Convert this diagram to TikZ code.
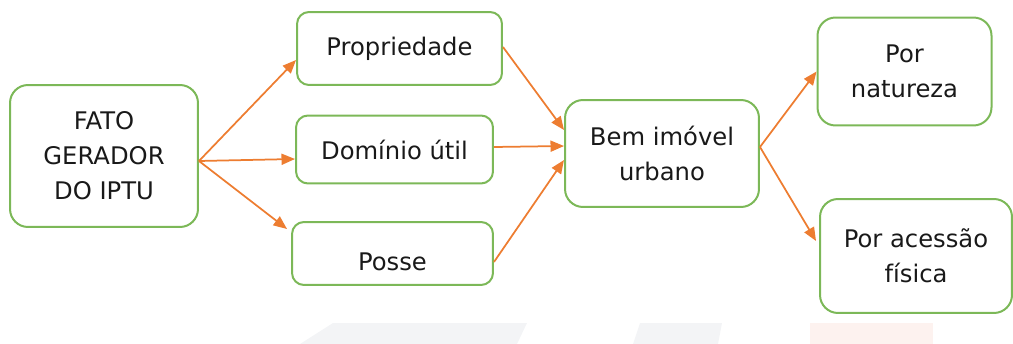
\documentclass[tikz,border=0pt]{standalone}
\usepackage{fontspec}
\setmainfont{DejaVu Sans}
\usetikzlibrary{arrows.meta}
\definecolor{boxgreen}{HTML}{7CB858}
\definecolor{arroworange}{HTML}{ED7D31}
\definecolor{marcacinza}{HTML}{F3F4F6}
\definecolor{marcarosa}{HTML}{FDF2EF}
\tikzset{
  caixa/.style={draw=boxgreen, line width=0.04cm, rounded corners=0.36cm,
    align=center, text=black!90, inner sep=0pt},
  caixapeq/.style={caixa, rounded corners=0.24cm},
  seta/.style={draw=arroworange, line width=0.035cm,
    -{Triangle[length=0.27cm,width=0.22cm]}}
}
\begin{document}
\begin{tikzpicture}[x=0.02cm, y=-0.02cm]
  \fontsize{13.8}{20}\selectfont
  \useasboundingbox (0,0) rectangle (1013,344);

  % marca d'agua ao fundo
  \fill[marcacinza] (333,323) -- (527,323) -- (517,344) -- (300,344) -- cycle;
  \fill[marcacinza] (640,323) -- (722,323) -- (718,344) -- (633,344) -- cycle;
  \fill[marcarosa] (810,323) rectangle (933,344);

  % caixas
  \node[caixa, minimum width=3.76cm, minimum height=2.84cm] (fato) at (104,156)
    {FATO\\GERADOR\\DO IPTU};
  \node[caixapeq, minimum width=4.1cm, minimum height=1.46cm] (prop) at (399.5,48.5)
    {Propriedade};
  \node[caixapeq, minimum width=3.94cm, minimum height=1.36cm] (dom) at (394.5,149.5)
    {Domínio útil};
  \node[caixapeq, minimum width=4.02cm, minimum height=1.26cm,
    label={[yshift=-0.16cm, text=black!90]center:Posse}] (posse) at (392.5,253.5) {};
  \node[caixa, minimum width=3.88cm, minimum height=2.14cm] (bem) at (662,153.5)
    {Bem imóvel\\urbano};
  \node[caixa, minimum width=3.48cm, minimum height=2.16cm] (nat) at (904.5,71.5)
    {Por\\natureza};
  \node[caixa, minimum width=3.84cm, minimum height=2.28cm] (aces) at (916,256)
    {Por acessão\\física};

  % setas
  \coordinate (saida) at ([yshift=-0.1cm]fato.east);
  \draw[seta] (saida) -- ([yshift=-0.23cm]prop.west);
  \draw[seta] (saida) -- ([yshift=-0.19cm]dom.west);
  \draw[seta] (saida) -- ([shift={(-0.08cm,-0.16cm)}]posse.north west);

  \draw[seta] ([yshift=0.03cm]prop.east) -- ([yshift=0.47cm]bem.west);
  \draw[seta] ([yshift=0.05cm]dom.east) -- ([yshift=0.15cm]bem.west);
  \draw[seta] ([yshift=-0.17cm]posse.east) -- ([yshift=-0.13cm]bem.west);

  \coordinate (saidabem) at ([yshift=0.13cm]bem.east);
  \draw[seta] (saidabem) -- (nat.west);
  \draw[seta] (saidabem) -- ([shift={(-0.06cm,0.3cm)}]aces.west);
\end{tikzpicture}
\end{document}
